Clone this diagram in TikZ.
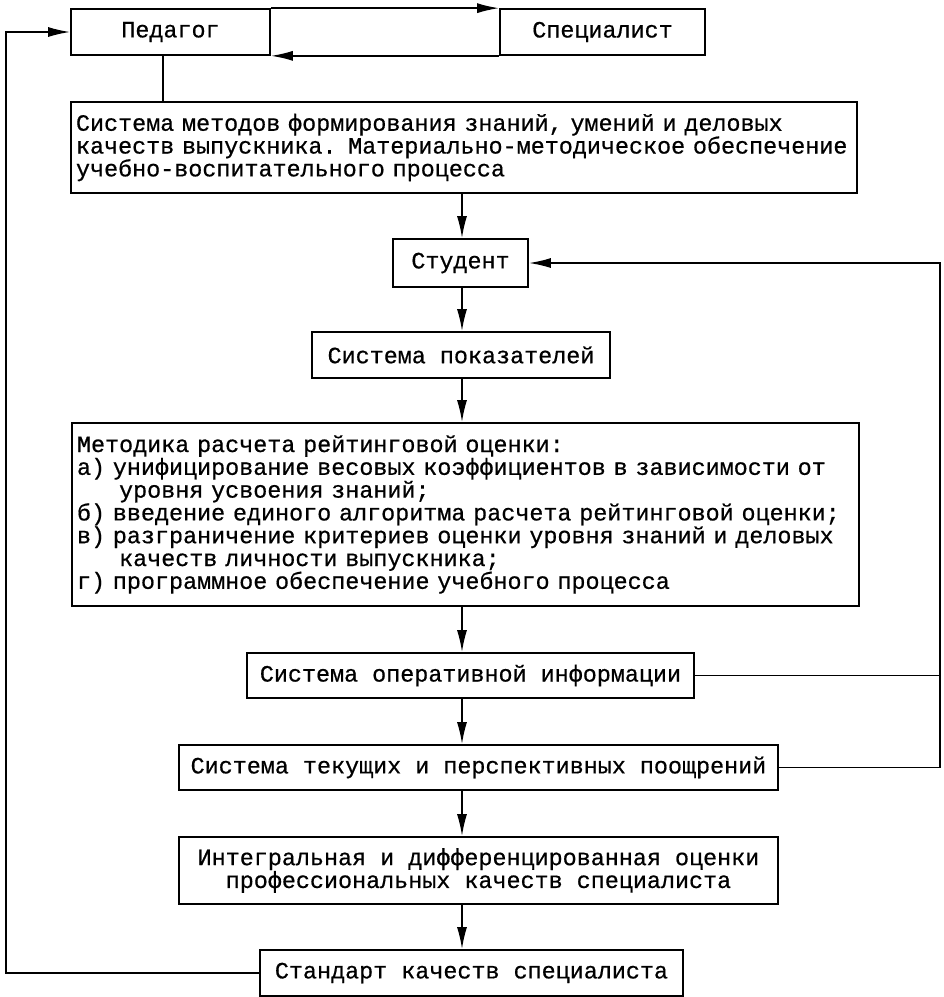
\documentclass[tikz,border=0pt]{standalone}
\usepackage{fontspec}
\setmainfont[FakeBold=0.6]{Liberation Mono}
\usetikzlibrary{arrows.meta}
\begin{document}
\begin{tikzpicture}[x=1pt,y=-1pt,
  box/.style={draw, line width=1.7pt, inner xsep=5pt, inner ysep=0pt,
    font=\fontsize{23.4}{22.8}\selectfont},
  ln/.style={line width=1.7pt},
  arr/.style={line width=1.7pt, -{Latex[length=22pt,width=10pt]}}]
\useasboundingbox (0,0) rectangle (944,997);

\node[box, minimum width=199pt, minimum height=46pt] (ped) at (170.5,32) {Педагог};
\node[box, minimum width=205pt, minimum height=46pt] (spec) at (602.5,32) {Специалист};
\node[box, minimum height=91pt, text width=776pt, align=left] (sys) at (464,147.5)
  {Система методов формирования знаний, умений и деловых\\
   качеств выпускника. Материально-методическое обеспечение\\
   учебно-воспитательного процесса};
\node[box, minimum width=135pt, minimum height=48pt] (stud) at (460.5,263) {Студент};
\node[box, minimum width=298pt, minimum height=46pt] (pok) at (461,355) {Система показателей};
\node[box, minimum height=183pt, text width=777pt, align=left] (met) at (465.5,514.5)
  {Методика расчета рейтинговой оценки:\\
   а) унифицирование весовых коэффициентов в зависимости от\\
   \hspace*{1.8em}уровня усвоения знаний;\\
   б) введение единого алгоритма расчета рейтинговой оценки;\\
   в) разграничение критериев оценки уровня знаний и деловых\\
   \hspace*{1.8em}качеств личности выпускника;\\
   г) программное обеспечение учебного процесса};
\node[box, minimum width=447pt, minimum height=45pt] (oper) at (470.5,675.5) {Система оперативной информации};
\node[box, minimum width=599pt, minimum height=45pt] (tek) at (478.5,767.5) {Система текущих и перспективных поощрений};
\node[box, minimum width=599pt, minimum height=67pt, align=center] (integ) at (478.5,870.5)
  {Интегральная и дифференцированная оценки\\профессиональных качеств специалиста};
\node[box, minimum width=423pt, minimum height=46pt] (stand) at (471.5,973) {Стандарт качеств специалиста};

\coordinate (col) at (462,0);
\coordinate (pcol) at (163,0);
\coordinate (lx) at (6,0);
\coordinate (rx) at (940,0);

% top exchange
\draw[arr] (ped.north east) -- (spec.north west);
\draw[arr] (spec.south west) -- (ped.south east);
\draw[ln] (ped.south -| pcol) -- (sys.north -| pcol);

% main column
\draw[arr] (sys.south -| col) -- (stud.north -| col);
\draw[arr] (stud.south -| col) -- (pok.north -| col);
\draw[arr] (pok.south -| col) -- (met.north -| col);
\draw[arr] (met.south -| col) -- (oper.north -| col);
\draw[arr] (oper.south -| col) -- (tek.north -| col);
\draw[arr] (tek.south -| col) -- (integ.north -| col);
\draw[arr] (integ.south -| col) -- (stand.north -| col);

% left loop
\draw[arr] (stand.west) -- (stand.west -| lx) |- (ped.west);

% right loop
\draw[ln] (oper.east) -- (oper.east -| rx);
\draw[arr] (tek.east) -- (tek.east -| rx) |- (stud.east);
\end{tikzpicture}
\end{document}
